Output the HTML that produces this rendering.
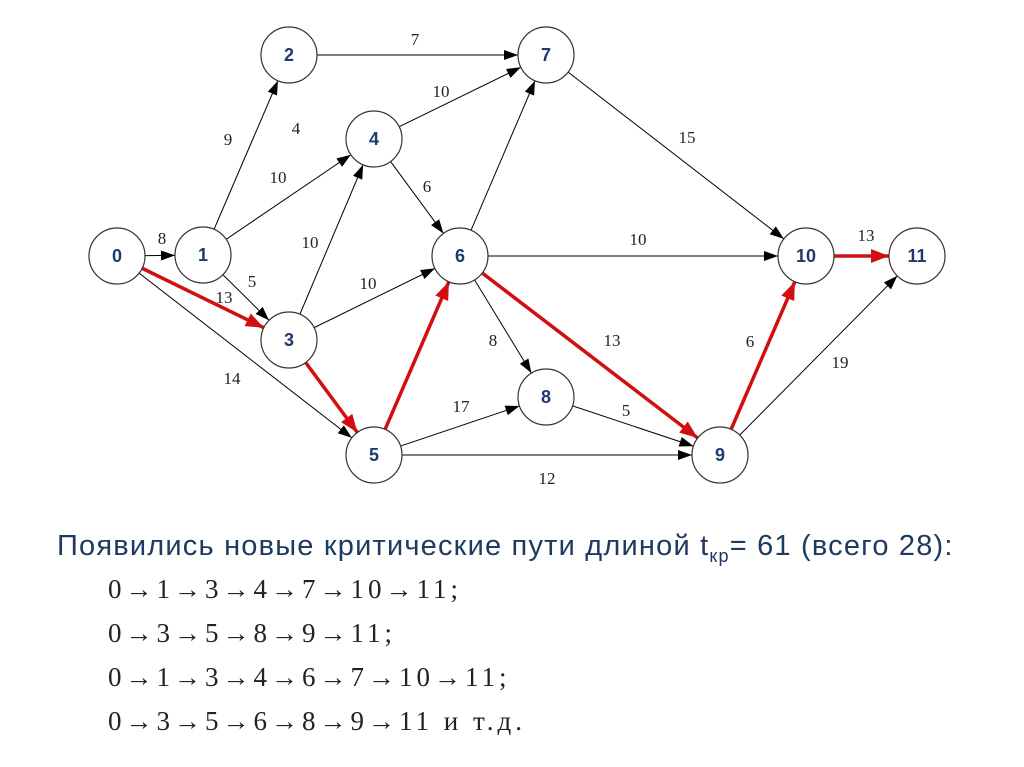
<!DOCTYPE html>
<html><head><meta charset="utf-8"><style>
body{margin:0;background:#fff;width:1024px;height:767px;overflow:hidden;position:relative}
svg{position:absolute;left:0;top:0}
.t{position:absolute;font-family:"Liberation Sans",sans-serif;font-size:29px;letter-spacing:1.2px;color:#1f3a60;left:57px;top:530px;white-space:nowrap}
.p{position:absolute;font-family:"Liberation Serif",serif;font-size:27px;letter-spacing:4px;color:#222;left:108px;white-space:nowrap}
</style></head><body>
<svg width="1024" height="520" xmlns="http://www.w3.org/2000/svg">
<defs>
<marker id="a" markerUnits="userSpaceOnUse" markerWidth="14" markerHeight="10" refX="42" refY="5" orient="auto" overflow="visible"><path d="M0,0 L14,5 L0,10 z" fill="#000"/></marker>
<marker id="r" markerUnits="userSpaceOnUse" markerWidth="18" markerHeight="14" refX="46" refY="7" orient="auto" overflow="visible"><path d="M0,0 L18,7 L0,14 z" fill="#d01010"/></marker>
</defs>
<g stroke="#000" stroke-width="1" marker-end="url(#a)">
<line x1="117" y1="256" x2="203" y2="255"/>
<line x1="203" y1="255" x2="289" y2="55"/>
<line x1="203" y1="255" x2="374" y2="139"/>
<line x1="203" y1="255" x2="289" y2="340"/>
<line x1="117" y1="256" x2="374" y2="455"/>
<line x1="289" y1="55" x2="546" y2="55"/>
<line x1="374" y1="139" x2="546" y2="55"/>
<line x1="289" y1="340" x2="374" y2="139"/>
<line x1="374" y1="139" x2="460" y2="256"/>
<line x1="289" y1="340" x2="460" y2="256"/>
<line x1="460" y1="256" x2="546" y2="55"/>
<line x1="460" y1="256" x2="806" y2="256"/>
<line x1="460" y1="256" x2="546" y2="397"/>
<line x1="374" y1="455" x2="546" y2="397"/>
<line x1="374" y1="455" x2="720" y2="455"/>
<line x1="546" y1="397" x2="720" y2="455"/>
<line x1="546" y1="55" x2="806" y2="256"/>
<line x1="720" y1="455" x2="917" y2="256"/>
</g>
<g stroke="#d01010" stroke-width="3.5" marker-end="url(#r)">
<line x1="117" y1="256" x2="289" y2="340"/>
<line x1="289" y1="340" x2="374" y2="455"/>
<line x1="374" y1="455" x2="460" y2="256"/>
<line x1="460" y1="256" x2="720" y2="455"/>
<line x1="720" y1="455" x2="806" y2="256"/>
<line x1="806" y1="256" x2="917" y2="256"/>
</g>
<g fill="#fff" stroke="#333" stroke-width="1.2">
<circle cx="117" cy="256" r="28"/><circle cx="203" cy="255" r="28"/><circle cx="289" cy="55" r="28"/>
<circle cx="546" cy="55" r="28"/><circle cx="374" cy="139" r="28"/><circle cx="460" cy="256" r="28"/>
<circle cx="289" cy="340" r="28"/><circle cx="374" cy="455" r="28"/><circle cx="546" cy="397" r="28"/>
<circle cx="720" cy="455" r="28"/><circle cx="806" cy="256" r="28"/><circle cx="917" cy="256" r="28"/>
</g>
<g font-family="Liberation Sans,sans-serif" font-weight="bold" font-size="18" fill="#1f3a6e" text-anchor="middle">
<text x="117" y="262">0</text><text x="203" y="261">1</text><text x="289" y="61">2</text>
<text x="546" y="61">7</text><text x="374" y="145">4</text><text x="460" y="262">6</text>
<text x="289" y="346">3</text><text x="374" y="461">5</text><text x="546" y="403">8</text>
<text x="720" y="461">9</text><text x="806" y="262">10</text><text x="917" y="262">11</text>
</g>
<g font-family="Liberation Serif,serif" font-size="17" fill="#222" text-anchor="middle">
<text x="162" y="244">8</text><text x="228" y="145">9</text><text x="296" y="134">4</text>
<text x="278" y="183">10</text><text x="252" y="287">5</text><text x="224" y="303">13</text>
<text x="232" y="384">14</text><text x="415" y="45">7</text><text x="441" y="97">10</text>
<text x="310" y="248">10</text><text x="427" y="192">6</text><text x="368" y="289">10</text>
<text x="687" y="143">15</text><text x="638" y="245">10</text><text x="493" y="346">8</text>
<text x="612" y="346">13</text><text x="461" y="412">17</text><text x="626" y="416">5</text>
<text x="547" y="484">12</text><text x="750" y="347">6</text><text x="840" y="368">19</text>
<text x="866" y="241">13</text>
</g>
</svg>
<div class="t">Появились новые критические пути длиной t<sub style="font-size:18px">кр</sub>= 61 (всего 28):</div>
<div class="p" style="top:574px">0→1→3→4→7→10→11;</div>
<div class="p" style="top:618px">0→3→5→8→9→11;</div>
<div class="p" style="top:662px">0→1→3→4→6→7→10→11;</div>
<div class="p" style="top:706px">0→3→5→6→8→9→11 и т.д.</div>
</body></html>
